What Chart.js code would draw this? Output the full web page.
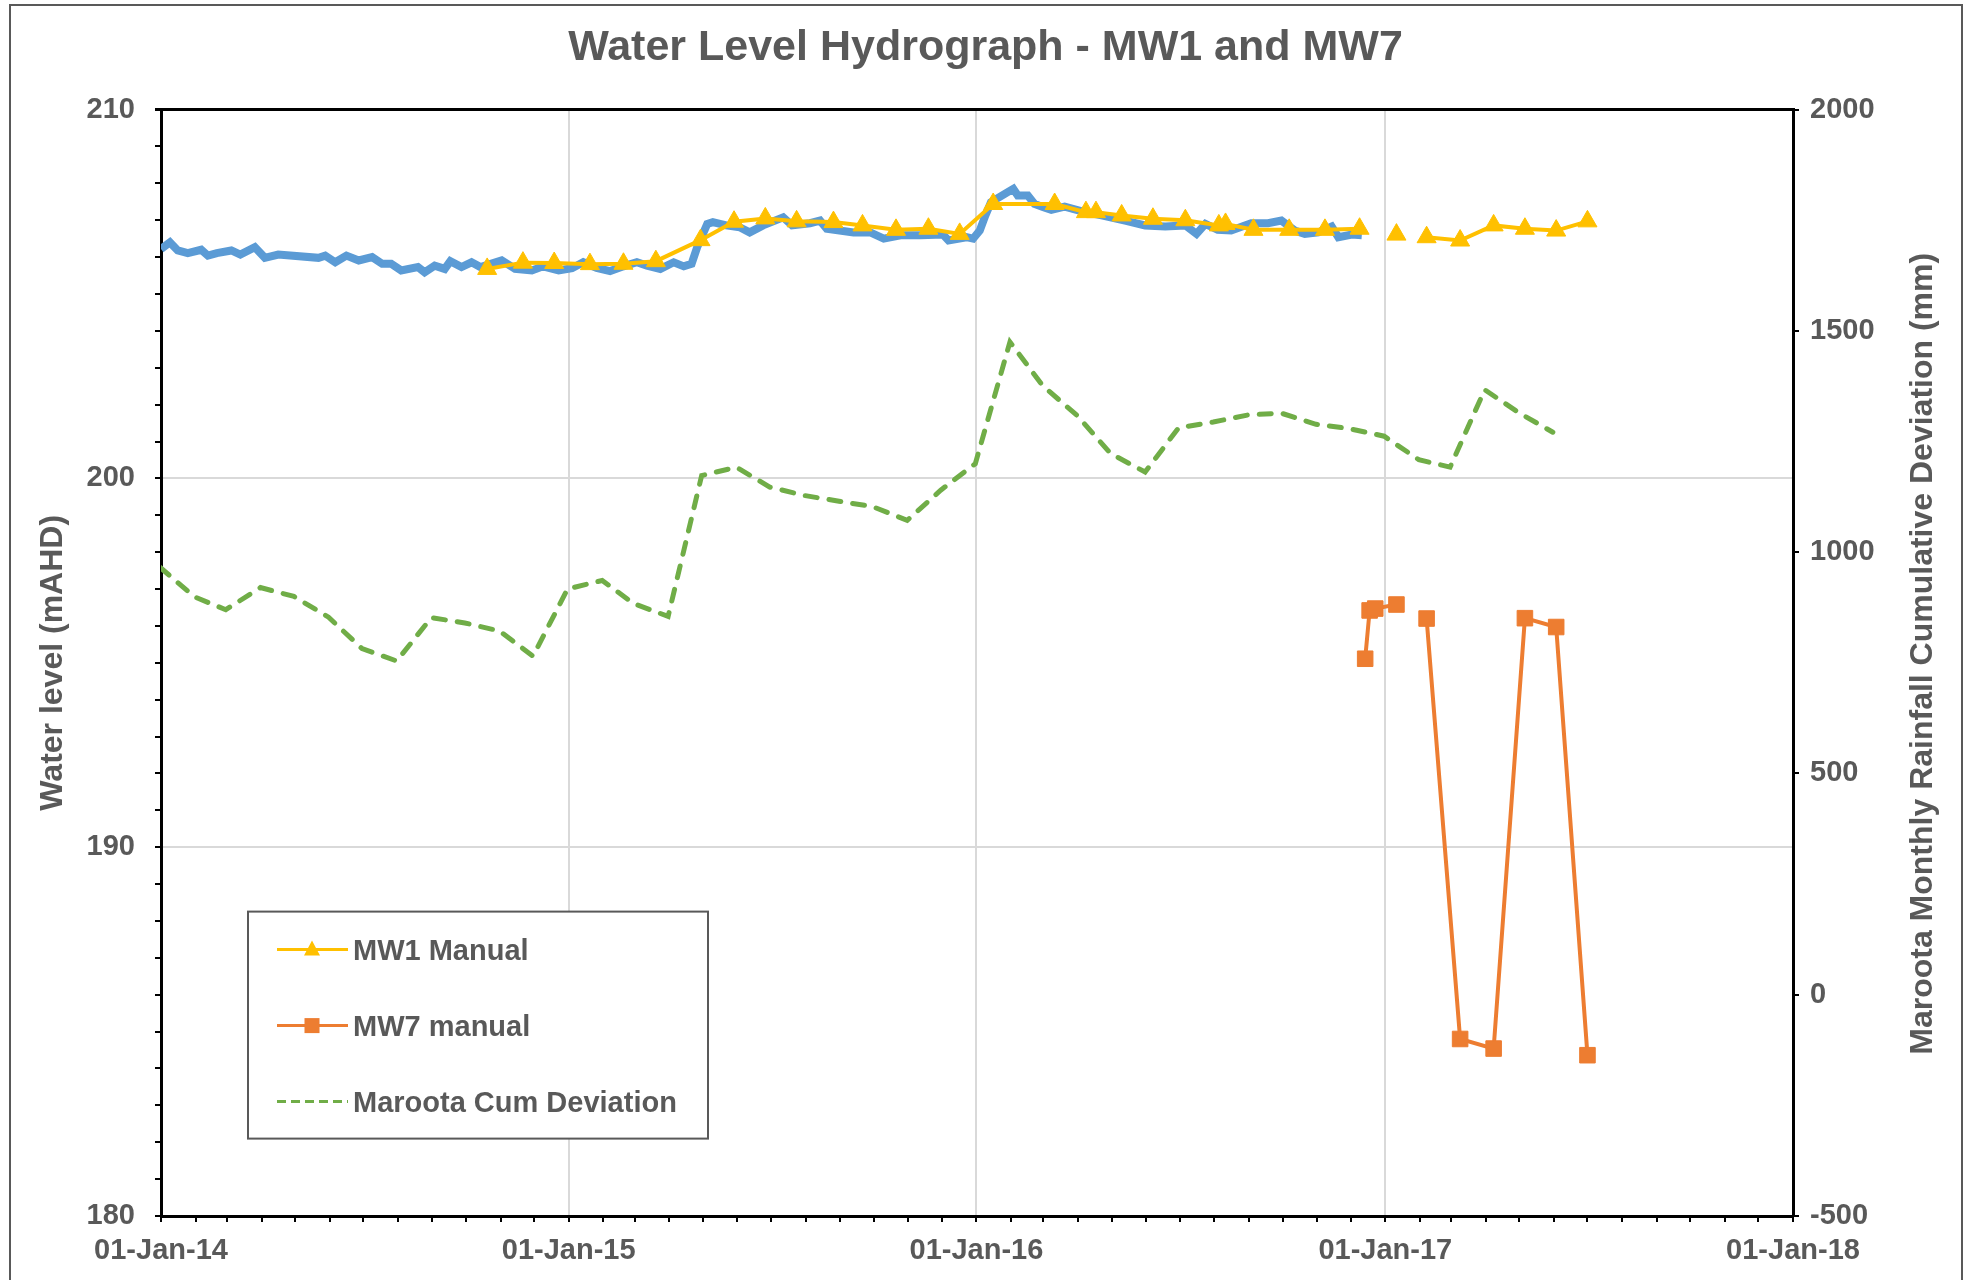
<!DOCTYPE html>
<html>
<head>
<meta charset="utf-8">
<title>Water Level Hydrograph - MW1 and MW7</title>
<script src="https://cdn.jsdelivr.net/npm/chart.js"></script>
<style>
  body { margin: 0; background: #fff; }
  #wrap { width: 1971px; height: 1280px; }
</style>
</head>
<body>
<div id="wrap"><canvas id="hydroChart" width="1971" height="1280"></canvas></div>
<script>
// logger record for MW1 (drawn in blue, not in the legend)
const loggerDates = [
  '2014-01-01','2014-01-09','2014-01-16','2014-01-25','2014-02-06','2014-02-12','2014-02-20','2014-03-05','2014-03-13','2014-03-26',
  '2014-04-04','2014-04-16','2014-05-22','2014-05-28','2014-06-06','2014-06-16','2014-06-27','2014-07-09','2014-07-18','2014-07-26',
  '2014-08-04','2014-08-19','2014-08-25','2014-09-03','2014-09-12','2014-09-17','2014-09-27','2014-10-06','2014-10-14','2014-11-02',
  '2014-11-14','2014-11-29','2014-12-09','2014-12-23','2015-01-04','2015-01-14','2015-01-26','2015-02-07','2015-02-19','2015-03-03',
  '2015-03-12','2015-03-24','2015-04-05','2015-04-14','2015-04-21','2015-04-26','2015-05-05','2015-05-10','2015-05-22','2015-06-03',
  '2015-06-12','2015-06-24','2015-07-12','2015-07-20','2015-08-05','2015-08-14','2015-08-20','2015-09-13','2015-09-28','2015-10-10',
  '2015-10-25','2015-11-12','2015-12-02','2015-12-07','2015-12-23','2015-12-29','2016-01-04','2016-01-09','2016-01-14','2016-01-26',
  '2016-02-03','2016-02-07','2016-02-16','2016-02-22','2016-03-01','2016-03-08','2016-03-20','2016-04-07','2016-04-22','2016-05-13',
  '2016-05-31','2016-06-18','2016-07-06','2016-07-16','2016-07-24','2016-08-04','2016-08-16','2016-09-03','2016-09-18','2016-09-30',
  '2016-10-12','2016-10-21','2016-11-02','2016-11-14','2016-11-20','2016-12-02','2016-12-11'
];
const loggerLevels = [
  206.22,206.40,206.18,206.11,206.20,206.04,206.11,206.18,206.07,206.27,
  205.98,206.07,205.98,206.04,205.86,206.04,205.91,206.00,205.82,205.82,
  205.64,205.73,205.59,205.77,205.68,205.89,205.73,205.86,205.73,205.91,
  205.68,205.64,205.75,205.64,205.70,205.86,205.71,205.62,205.75,205.86,
  205.77,205.68,205.86,205.75,205.82,206.27,206.90,206.95,206.86,206.81,
  206.67,206.86,207.08,206.86,206.92,206.99,206.77,206.67,206.67,206.50,
  206.59,206.59,206.61,206.45,206.54,206.50,206.72,207.13,207.49,207.71,
  207.85,207.67,207.67,207.44,207.35,207.28,207.37,207.22,207.13,206.99,
  206.86,206.83,206.86,206.63,206.90,206.74,206.72,206.92,206.92,206.99,
  206.72,206.63,206.67,206.83,206.54,206.61,206.59
];

const mw1Dates = [
  '2014-10-20','2014-11-21','2014-12-19','2015-01-20','2015-02-19','2015-03-20','2015-04-29','2015-05-29','2015-06-26','2015-07-24',
  '2015-08-26','2015-09-21','2015-10-21','2015-11-19','2015-12-17','2016-01-16','2016-03-11','2016-04-08','2016-04-17','2016-05-10',
  '2016-06-07','2016-07-06','2016-08-05','2016-08-11','2016-09-05','2016-10-07','2016-11-08','2016-12-09','2016-12-18','2017-01-11',
  '2017-01-25','2017-02-07','2017-03-09','2017-04-08','2017-05-06','2017-06-03','2017-07-01'
];
const mw1Levels = [
  205.68,205.85,205.84,205.81,205.82,205.89,206.46,206.96,207.05,206.97,
  206.95,206.86,206.74,206.77,206.63,207.44,207.44,207.22,207.22,207.13,
  207.04,207.00,206.86,206.90,206.74,206.74,206.74,206.77,null,206.61,
  null,206.54,206.45,206.86,206.77,206.72,206.97
];

const mw7Dates = [
  '2016-12-14','2016-12-18','2016-12-23','2017-01-11','2017-01-25','2017-02-07','2017-03-09','2017-04-08','2017-05-06','2017-06-03','2017-07-01'
];
const mw7Levels = [195.11,196.42,196.47,196.58,null,196.20,184.80,184.54,196.21,195.97,184.36];

// Maroota monthly rainfall cumulative deviation (mm), month ends
const rainDates = [
  '2013-12-31','2014-01-31','2014-02-28','2014-03-31','2014-04-30','2014-05-31','2014-06-30','2014-07-31','2014-08-31','2014-09-30',
  '2014-10-31','2014-11-30','2014-12-31','2015-01-31','2015-02-28','2015-03-31','2015-04-30','2015-05-31','2015-06-30','2015-07-31',
  '2015-08-31','2015-09-30','2015-10-31','2015-11-30','2015-12-31','2016-01-31','2016-02-29','2016-03-31','2016-04-30','2016-05-31',
  '2016-06-30','2016-07-31','2016-08-31','2016-09-30','2016-10-31','2016-11-30','2016-12-31','2017-01-31','2017-02-28','2017-03-31',
  '2017-04-30','2017-05-31'
];
const rainCumDev = [
  966,899,870,920,900,853,782,754,852,840,
  822,765,917,936,884,855,1173,1192,1147,1128,
  1115,1103,1072,1140,1200,1475,1377,1309,1223,1181,
  1281,1294,1310,1314,1289,1279,1262,1209,1192,1367,
  1316,1271
];

const xStart = '2014-01-01';
const xEnd = '2018-01-01';
const legendLabels = ['MW1 Manual', 'MW7 manual', 'Maroota Cum Deviation'];
const RIGHT_TITLE = 'Maroota Monthly Rainfall Cumulative Deviation (mm)';
const MONTHS = ['Jan','Feb','Mar','Apr','May','Jun','Jul','Aug','Sep','Oct','Nov','Dec'];

const FONT = "'Liberation Sans', Arial, sans-serif";
const TEXT = '#595959';
const DAY = 86400000;

const dayNum = s => {
  const [y, m, d] = s.split('-').map(Number);
  return Date.UTC(y, m - 1, d) / DAY;
};
const toPoints = (dates, vals) => dates.map((d, i) => ({ x: dayNum(d), y: vals[i] }));

// month starts for the minor ticks on the date axis
const monthTicks = [];
for (let m = 0; m <= 48; m++) monthTicks.push(Date.UTC(2014, m, 1) / DAY);

const dateLabel = v => {
  const d = new Date(v * DAY);
  if (d.getUTCMonth() !== 0 || d.getUTCDate() !== 1) return '';
  return '01-' + MONTHS[0] + '-' + String(d.getUTCFullYear()).slice(2);
};

const insetLegend = {
  id: 'insetLegend',
  afterDatasetsDraw(chart) {
    const { ctx, chartArea } = chart;
    const x0 = chartArea.left + 87, y0 = chartArea.top + 802, w = 460, h = 227;
    ctx.save();
    ctx.fillStyle = '#ffffff';
    ctx.fillRect(x0, y0, w, h);
    ctx.strokeStyle = TEXT;
    ctx.lineWidth = 2;
    ctx.strokeRect(x0, y0, w, h);
    chart.data.datasets.forEach(ds => {
      const row = legendLabels.indexOf(ds.label);
      if (row < 0) return;
      const y = y0 + 38 + row * 76;
      ctx.strokeStyle = ds.borderColor;
      ctx.lineWidth = 3;
      ctx.setLineDash(ds.borderDash ? [9, 5] : []);
      ctx.beginPath();
      ctx.moveTo(x0 + 29, y);
      ctx.lineTo(x0 + 100, y);
      ctx.stroke();
      ctx.setLineDash([]);
      ctx.fillStyle = ds.backgroundColor;
      const cx = x0 + 64;
      if (ds.pointStyle === 'triangle') {
        ctx.beginPath();
        ctx.moveTo(cx, y - 9);
        ctx.lineTo(cx + 8, y + 6);
        ctx.lineTo(cx - 8, y + 6);
        ctx.closePath();
        ctx.fill();
      } else if (ds.pointStyle === 'rect') {
        ctx.fillRect(cx - 7.5, y - 7.5, 15, 15);
      }
      ctx.fillStyle = TEXT;
      ctx.font = 'bold 29px ' + FONT;
      ctx.textAlign = 'left';
      ctx.textBaseline = 'alphabetic';
      ctx.fillText(ds.label, x0 + 105, y + 10);
    });
    ctx.restore();
  }
};

const frameAndRightTitle = {
  id: 'frameAndRightTitle',
  afterDraw(chart) {
    const { ctx, chartArea } = chart;
    ctx.save();
    ctx.strokeStyle = TEXT;
    ctx.lineWidth = 2;
    ctx.strokeRect(10, 5, 1952, 1300);
    ctx.translate(chart.scales.y1.right - 48, (chartArea.top + chartArea.bottom) / 2 - 9);
    ctx.rotate(-Math.PI / 2);
    ctx.font = 'bold 32px ' + FONT;
    ctx.fillStyle = TEXT;
    ctx.textAlign = 'center';
    ctx.textBaseline = 'middle';
    ctx.fillText(RIGHT_TITLE, 0, 0);
    ctx.restore();
  }
};

Chart.defaults.font.family = FONT;
Chart.defaults.color = TEXT;

new Chart(document.getElementById('hydroChart'), {
  type: 'line',
  data: {
    datasets: [{
      label: 'MW1 Manual',
      data: toPoints(mw1Dates, mw1Levels),
      yAxisID: 'y',
      borderColor: '#ffc000',
      backgroundColor: '#ffc000',
      borderWidth: 4,
      pointStyle: 'triangle',
      pointRadius: 11,
      pointBorderWidth: 1,
      spanGaps: false
    }, {
      label: 'MW7 manual',
      data: toPoints(mw7Dates, mw7Levels),
      yAxisID: 'y',
      borderColor: '#ed7d31',
      backgroundColor: '#ed7d31',
      borderWidth: 4,
      pointStyle: 'rect',
      pointRadius: 11,
      pointBorderWidth: 1,
      spanGaps: false
    }, {
      label: 'Maroota Cum Deviation',
      data: toPoints(rainDates, rainCumDev),
      yAxisID: 'y1',
      borderColor: '#70ad47',
      backgroundColor: '#70ad47',
      borderWidth: 5,
      borderDash: [12, 12],
      borderCapStyle: 'round',
      pointRadius: 0
    }, {
      label: 'MW1 Logger',
      data: toPoints(loggerDates, loggerLevels),
      yAxisID: 'y',
      borderColor: '#5b9bd5',
      backgroundColor: '#5b9bd5',
      borderWidth: 8,
      pointRadius: 0
    }]
  },
  options: {
    responsive: false,
    animation: false,
    devicePixelRatio: 1,
    layout: { padding: 0 },
    plugins: {
      legend: { display: false },
      tooltip: { enabled: false },
      title: {
        display: true,
        text: 'Water Level Hydrograph - MW1 and MW7',
        color: TEXT,
        font: { size: 43, weight: 'bold' },
        padding: { top: 22, bottom: 36 }
      }
    },
    scales: {
      x: {
        type: 'linear',
        min: dayNum(xStart),
        max: dayNum(xEnd),
        afterBuildTicks: scale => { scale.ticks = monthTicks.map(v => ({ value: v })); },
        afterFit: scale => { scale.height = 64; },
        ticks: {
          autoSkip: false,
          maxRotation: 0,
          minRotation: 0,
          padding: 12,
          color: TEXT,
          font: { size: 29, weight: 'bold' },
          callback: v => dateLabel(v)
        },
        grid: {
          color: c => {
            const lab = dateLabel(c.tick.value);
            return lab && c.tick.value > dayNum(xStart) && c.tick.value < dayNum(xEnd) ? '#d9d9d9' : 'rgba(0,0,0,0)';
          },
          tickColor: '#000',
          tickLength: 6,
          lineWidth: 2
        },
        border: { color: '#000', width: 3 }
      },
      y: {
        position: 'left',
        min: 180,
        max: 210,
        afterBuildTicks: scale => {
          const t = [];
          for (let v = 180; v <= 210; v++) t.push({ value: v });
          scale.ticks = t;
        },
        afterFit: scale => { scale.width = 161; },
        ticks: {
          autoSkip: false,
          padding: 20,
          color: TEXT,
          font: { size: 29, weight: 'bold' },
          callback: v => (v % 10 === 0 ? v : '')
        },
        grid: {
          color: c => {
            const v = c.tick.value;
            if (v === 210) return '#000';
            return (v === 190 || v === 200) ? '#d9d9d9' : 'rgba(0,0,0,0)';
          },
          lineWidth: c => (c.tick.value === 210 ? 3 : 2),
          tickColor: '#000',
          tickLength: 6
        },
        border: { color: '#000', width: 3 },
        title: {
          display: true,
          text: 'Water level (mAHD)',
          color: TEXT,
          font: { size: 32, weight: 'bold' },
          padding: { top: 34, bottom: 0 }
        }
      },
      y1: {
        position: 'right',
        min: -500,
        max: 2000,
        afterFit: scale => { scale.width = 178; },
        ticks: {
          stepSize: 500,
          padding: 11,
          color: TEXT,
          font: { size: 29, weight: 'bold' },
          callback: v => String(v)
        },
        grid: {
          drawOnChartArea: false,
          tickColor: '#000',
          tickLength: 6,
          lineWidth: 2
        },
        border: { color: '#000', width: 3 }
      }
    }
  },
  plugins: [insetLegend, frameAndRightTitle]
});
</script>
</body>
</html>
